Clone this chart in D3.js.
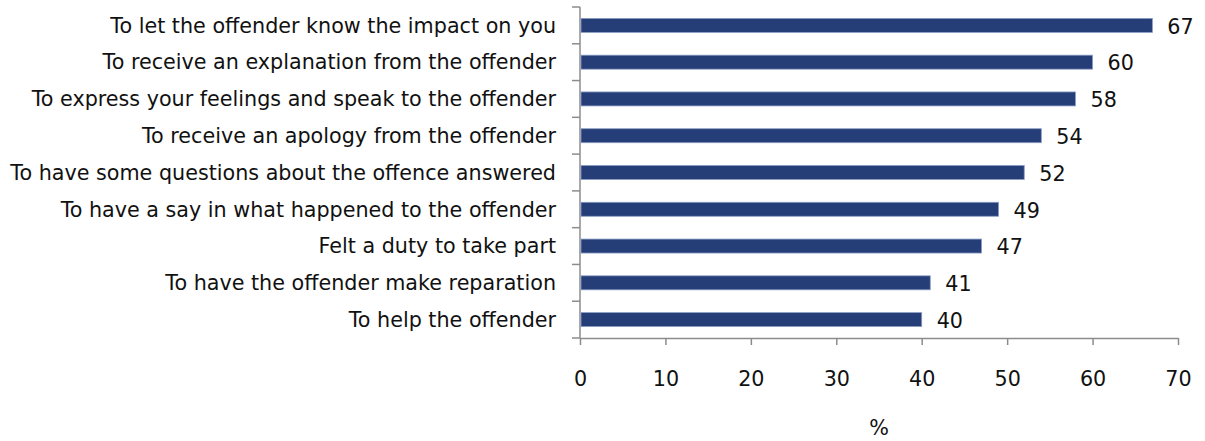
<!DOCTYPE html>
<html>
<head>
<meta charset="utf-8">
<script src="https://cdn.jsdelivr.net/npm/d3@7"></script>
<style>
  html, body { margin: 0; padding: 0; background: #fff; }
  svg { display: block; font-family: "DejaVu Sans", Verdana, sans-serif; }
</style>
</head>
<body>
<div id="chart"></div>
<script>
// ---- Data ------------------------------------------------------------------
const reasons = [
  'To let the offender know the impact on you',
  'To receive an explanation from the offender',
  'To express your feelings and speak to the offender',
  'To receive an apology from the offender',
  'To have some questions about the offence answered',
  'To have a say in what happened to the offender',
  'Felt a duty to take part',
  'To have the offender make reparation',
  'To help the offender'
];
const percents = [67, 60, 58, 54, 52, 49, 47, 41, 40];
const xTicks   = [0, 10, 20, 30, 40, 50, 60, 70];
const xTitle   = '%';

// ---- Layout ----------------------------------------------------------------
const W = 1205, H = 441;
const M = { top: 7, right: 27, bottom: 103, left: 580 };
const AXIS = '#8c8c8c', BAR = '#253e78';
const FS = '20.7px';

const svg = d3.select('#chart').append('svg')
  .attr('width', W).attr('height', H);

const x = d3.scaleLinear().domain([0, 70]).range([M.left, W - M.right]);
const y = d3.scaleBand().domain(reasons).range([M.top, H - M.bottom]).paddingInner(0.62).paddingOuter(0.31);

// y axis with category boundary ticks
const step = y.step();
const yG = svg.append('g');
yG.append('line')
  .attr('x1', M.left).attr('x2', M.left)
  .attr('y1', M.top).attr('y2', H - M.bottom)
  .attr('stroke', AXIS).attr('stroke-width', 1.5);
d3.range(0, reasons.length + 1).forEach(i => {
  const yy = M.top + i * step;
  yG.append('line')
    .attr('x1', M.left - 8).attr('x2', M.left)
    .attr('y1', yy).attr('y2', yy)
    .attr('stroke', AXIS).attr('stroke-width', 1.5);
});

// category labels
svg.append('g').selectAll('text')
  .data(reasons)
  .join('text')
  .attr('x', M.left - 24)
  .attr('y', d => y(d) + y.bandwidth() / 2)
  .attr('dy', '0.35em')
  .attr('text-anchor', 'end')
  .style('font-size', FS)
  .style('fill', '#111')
  .text(d => d);

// x axis
svg.append('g')
  .attr('transform', `translate(0,${H - M.bottom})`)
  .call(d3.axisBottom(x).tickValues(xTicks).tickSize(7).tickPadding(26).tickSizeOuter(0))
  .call(g => g.select('.domain').attr('stroke', AXIS).attr('stroke-width', 1.5))
  .call(g => g.selectAll('.tick line').attr('stroke', AXIS).attr('stroke-width', 1.5))
  .call(g => g.selectAll('text')
    .style('font-size', FS)
    .style('font-family', '"DejaVu Sans", Verdana, sans-serif')
    .attr('fill', '#111'));

svg.append('text')
  .attr('x', x(35))
  .attr('y', 428)
  .attr('dy', '0.35em')
  .attr('text-anchor', 'middle')
  .style('font-size', FS)
  .style('fill', '#111')
  .text(xTitle);

// bars
const rows = reasons.map((r, i) => ({ r, v: percents[i] }));
svg.append('g').selectAll('rect')
  .data(rows)
  .join('rect')
  .attr('x', x(0) + 1)
  .attr('y', d => y(d.r))
  .attr('width', d => x(d.v) - x(0) - 1)
  .attr('height', y.bandwidth())
  .attr('fill', BAR)
  .attr('stroke', '#8a9cc4')
  .attr('stroke-width', 0.8);

// value labels
svg.append('g').selectAll('text')
  .data(rows)
  .join('text')
  .attr('x', d => x(d.v) + 15)
  .attr('y', d => y(d.r) + y.bandwidth() / 2 + 1)
  .attr('dy', '0.35em')
  .style('font-size', FS)
  .style('fill', '#111')
  .text(d => d.v);
</script>
</body>
</html>
